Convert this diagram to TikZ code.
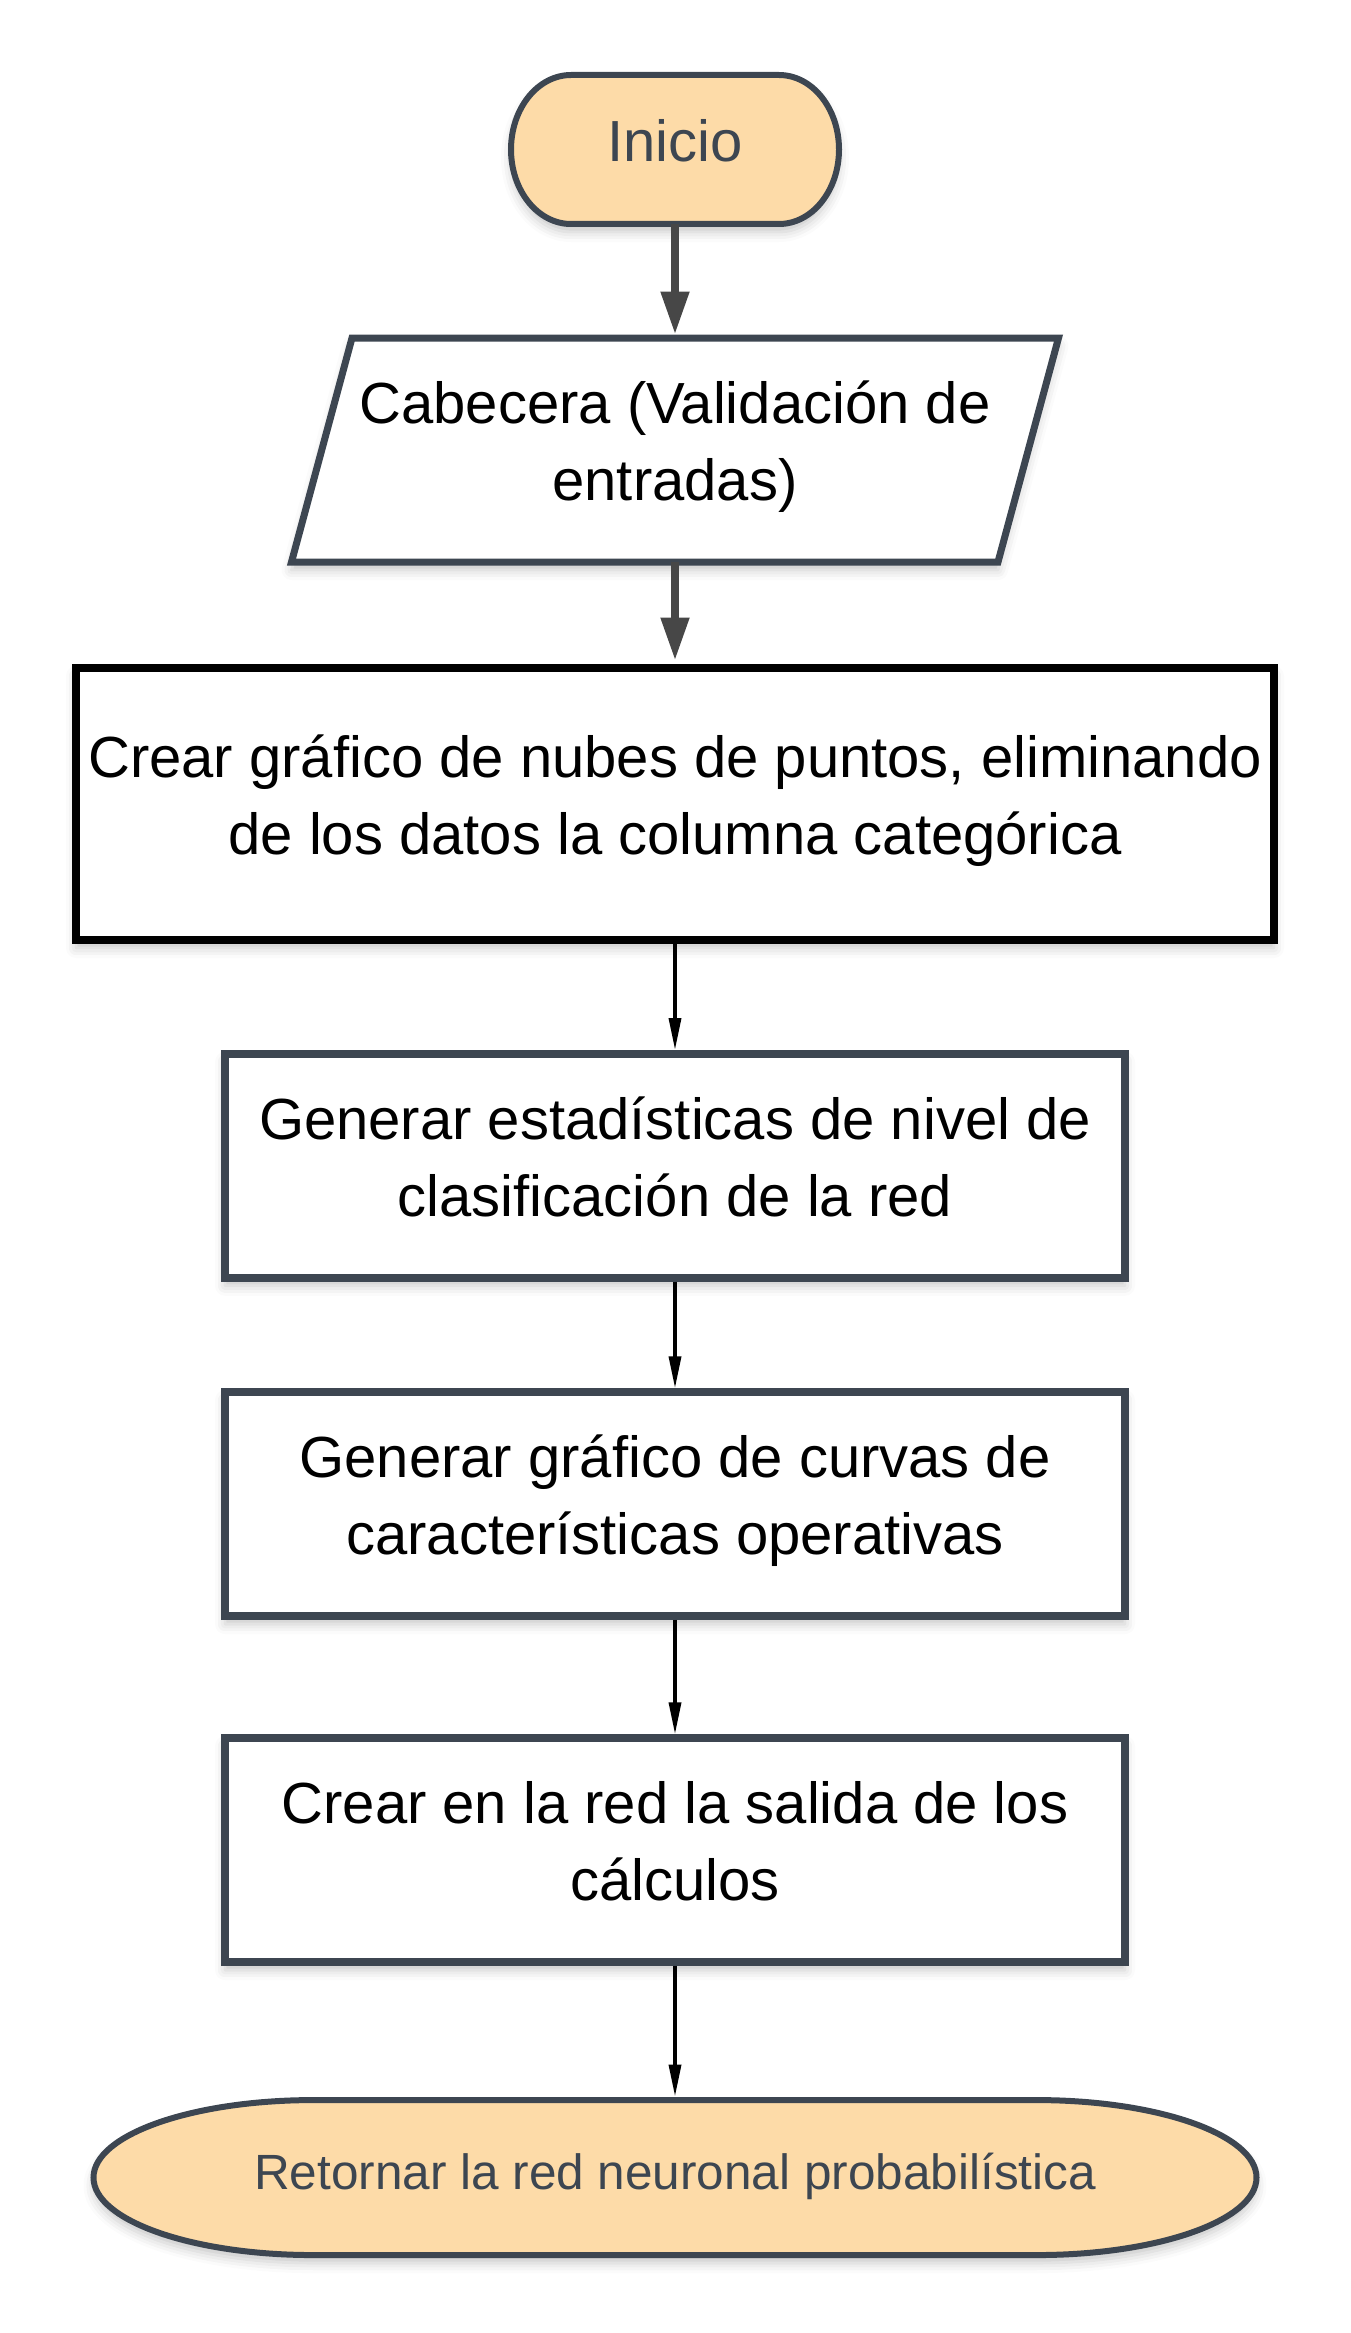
\documentclass[tikz,border=0pt]{standalone}
\usepackage{fontspec}
\setmainfont{Liberation Sans}
\usetikzlibrary{
        arrows.meta,
        backgrounds,
        positioning,
        shadows.blur
    }
\definecolor{slate}{HTML}{3D4651}
\definecolor{peach}{HTML}{FDDBA8}
\definecolor{arrowgray}{HTML}{474747}
\tikzset{>={Triangle[length=16pt,width=6pt]},node distance=53pt}
\tikzset{
    softshadow/.style={blur shadow={shadow xshift=0pt,shadow yshift=-4pt,shadow blur radius=5pt,shadow opacity=22}},
    bigtext/.style={font=\fontsize{29pt}{38.25pt}\selectfont},
    twolines/.style={execute at begin node={\rule{0pt}{28pt}},execute at end node={\rule[-9.25pt]{0pt}{0pt}}},
    term/.style={rectangle,inner sep=0pt,outer sep=0pt,text=slate,bigtext,text height=20.75pt,text depth=8.25pt},
    termline/.style={draw=slate,fill=peach,line width=3pt,softshadow},
    io/.style={rectangle,inner sep=0pt,outer sep=0pt,align=center,bigtext,twolines,minimum width=353.25pt,minimum height=112pt},
    ioline/.style={draw=slate,fill=white,line width=3.5pt,line join=miter,softshadow},
    proc/.style={rectangle,draw=slate,fill=white,line width=3.75pt,align=center,bigtext,twolines,inner sep=0pt,
        minimum width=450pt,minimum height=112pt,softshadow},
    thickflow/.style={->,draw=arrowgray,line width=4pt,>={Triangle[length=21.5pt,width=13.5pt]},shorten >=1.75pt},
    flow/.style={->,line width=1.75pt}
}
\newcommand{\termshape}[3]{%
    \draw[termline] ([xshift=#2]#1.north west) -- ([xshift=-#2]#1.north east)
        arc[start angle=90,end angle=-90,x radius=#2,y radius=#3]
        -- ([xshift=#2]#1.south west)
        arc[start angle=270,end angle=90,x radius=#2,y radius=#3] -- cycle;}

\begin{document}
\begin{tikzpicture}[]
\useasboundingbox (0,0) rectangle (675pt,-1166.5pt);
    \node[term,minimum width=164pt,minimum height=74.5pt] (inicio) at (337.5pt,-74.75pt) {Inicio};
    \node[io] (cabecera) [below=57pt of inicio] {Cabecera (Validación de\\entradas)};
    \node[proc,draw=black,line width=4pt,minimum width=599pt,minimum height=136pt] (nubes) [below=51pt of cabecera]
        {Crear gráfico de nubes de puntos, eliminando\\de los datos la columna categórica};
    \node[proc] (estad) [below=53pt of nubes] {Generar estadísticas de nivel de\\clasificación de la red};
    \node[proc] (curvas) [below=53.4pt of estad] {Generar gráfico de curvas de\\características operativas};
    \node[proc] (salida) [below=57.25pt of curvas] {Crear en la red la salida de los\\cálculos};
    \node[term,minimum width=581.5pt,minimum height=77.5pt,font=\fontsize{24.75pt}{30pt}\selectfont,
        text height=17.75pt,text depth=6.25pt] (fin) [below=67.125pt of salida]
        {Retornar la red neuronal probabilística};
    \begin{scope}[on background layer]
        \termshape{inicio}{30pt}{37.25pt}
        \termshape{fin}{110pt}{38.75pt}
        \draw[ioline] ([xshift=15.125pt]cabecera.north west) -- ([xshift=15.125pt]cabecera.north east)
            -- ([xshift=-15.125pt]cabecera.south east) -- ([xshift=-15.125pt]cabecera.south west) -- cycle;
    \end{scope}
    \draw[thickflow] (inicio) -- (cabecera);
    \draw[thickflow] (cabecera) -- (nubes);
    \draw[flow] (nubes) -- (estad);
    \draw[flow] (estad) -- (curvas);
    \draw[flow] (curvas) -- (salida);
    \draw[flow,shorten >=1.75pt] (salida) -- (fin);
\end{tikzpicture}
\end{document}
